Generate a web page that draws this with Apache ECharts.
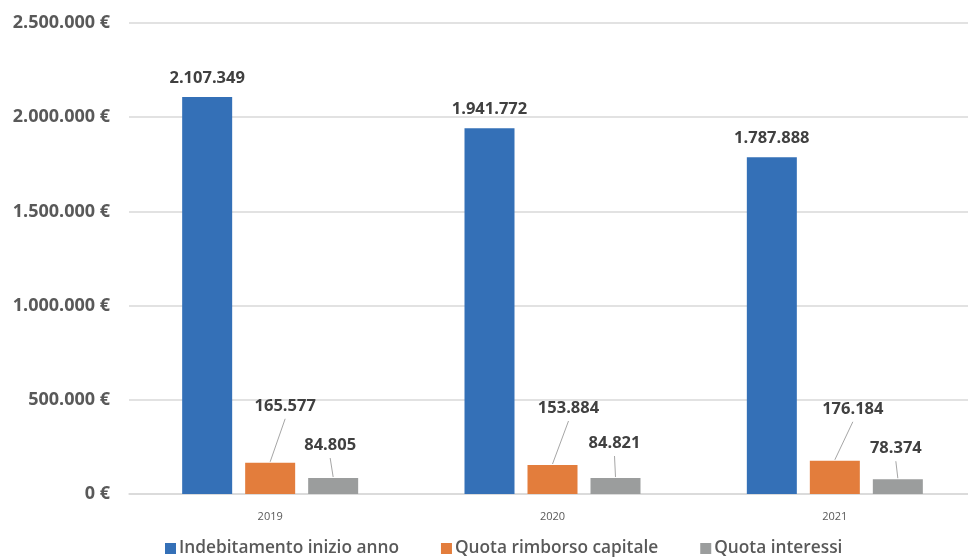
<!DOCTYPE html>
<html>
<head>
<meta charset="utf-8">
<script src="https://cdn.jsdelivr.net/npm/echarts@6/dist/echarts.min.js"></script>
<style>
  html, body { margin: 0; padding: 0; background: #fff; overflow: hidden; }
  /* plot area runs past the right edge of the window, as in the reference */
  #chart { width: 976px; height: 560px; }
</style>
</head>
<body>
<div id="chart"></div>
<script>
const years = ['2019', '2020', '2021']
const debito = [2107349, 1941772, 1787888]
const rimborso = [165577, 153884, 176184]
const interessi = [84805, 84821, 78374]
const yTicks = [0, 500000, 1000000, 1500000, 2000000, 2500000]

// label shifts (px) for the small bars that carry a leader line
const rimborsoShift = [[15, -42], [16, -42], [18, -37]]
const interessiShift = [[-3, -18], [-1, -20], [-2, -16]]

const FONT = '"Open Sans", sans-serif'
const LABEL_DIST = 6
const fmt = v => v.toLocaleString('de-DE')

const chart = echarts.init(document.getElementById('chart'))

function barSeries(name, data, color, shift) {
  return {
    name: name,
    type: 'bar',
    data: data.map((v, i) => ({
      value: v,
      label: shift ? { offset: shift[i] } : undefined
    })),
    barWidth: 50,
    barGap: '26%',
    itemStyle: { color: color },
    label: {
      show: true,
      position: 'top',
      distance: shift ? LABEL_DIST : 10,
      formatter: p => fmt(p.value),
      fontFamily: FONT,
      fontWeight: 'bold',
      fontSize: 16.5,
      color: '#404040'
    }
  }
}

chart.setOption({
  animation: false,
  backgroundColor: '#fff',
  grid: { left: 129, top: 23, right: 0, height: 471, containLabel: false },
  legend: {
    bottom: -2,
    left: 160,
    itemWidth: 11,
    itemHeight: 11,
    itemGap: 42,
    icon: 'rect',
    textStyle: { fontFamily: FONT, fontSize: 17.3, fontWeight: 600, color: '#595959', padding: [0, 0, 0, -2] }
  },
  xAxis: {
    type: 'category',
    data: years,
    axisTick: { show: false },
    axisLine: { lineStyle: { color: '#d9d9d9', width: 1.5 } },
    axisLabel: { fontFamily: FONT, fontSize: 11, color: '#595959', margin: 17 }
  },
  yAxis: {
    type: 'value',
    min: yTicks[0],
    max: yTicks[yTicks.length - 1],
    interval: yTicks[1] - yTicks[0],
    axisLabel: {
      fontFamily: FONT,
      fontWeight: 'bold',
      fontSize: 18,
      color: '#595959',
      margin: 19,
      formatter: v => fmt(v) + ' €'
    },
    splitLine: { lineStyle: { color: '#d9d9d9', width: 1.5 } }
  },
  series: [
    barSeries('Indebitamento inizio anno', debito, '#3470b7'),
    barSeries('Quota rimborso capitale', rimborso, '#e37d3c', rimborsoShift),
    barSeries('Quota interessi', interessi, '#9b9d9d', interessiShift)
  ]
})

// leader lines from the shifted labels down to the bar tops
function leaderLines() {
  const lines = []
  ;[[1, rimborsoShift], [2, interessiShift]].forEach(([si, shift]) => {
    const data = chart.getModel().getSeriesByIndex(si).getData()
    for (let i = 0; i < data.count(); i++) {
      const l = data.getItemLayout(i)
      const cx = l.x + l.width / 2
      const top = Math.min(l.y, l.y + l.height)
      lines.push({
        type: 'line',
        silent: true,
        shape: {
          x1: cx + shift[i][0],
          y1: top - LABEL_DIST + shift[i][1] + 4,
          x2: cx,
          y2: top - 1
        },
        style: { stroke: '#a6a6a6', lineWidth: 1 }
      })
    }
  })
  chart.setOption({ graphic: lines })
}
leaderLines()
</script>
</body>
</html>
